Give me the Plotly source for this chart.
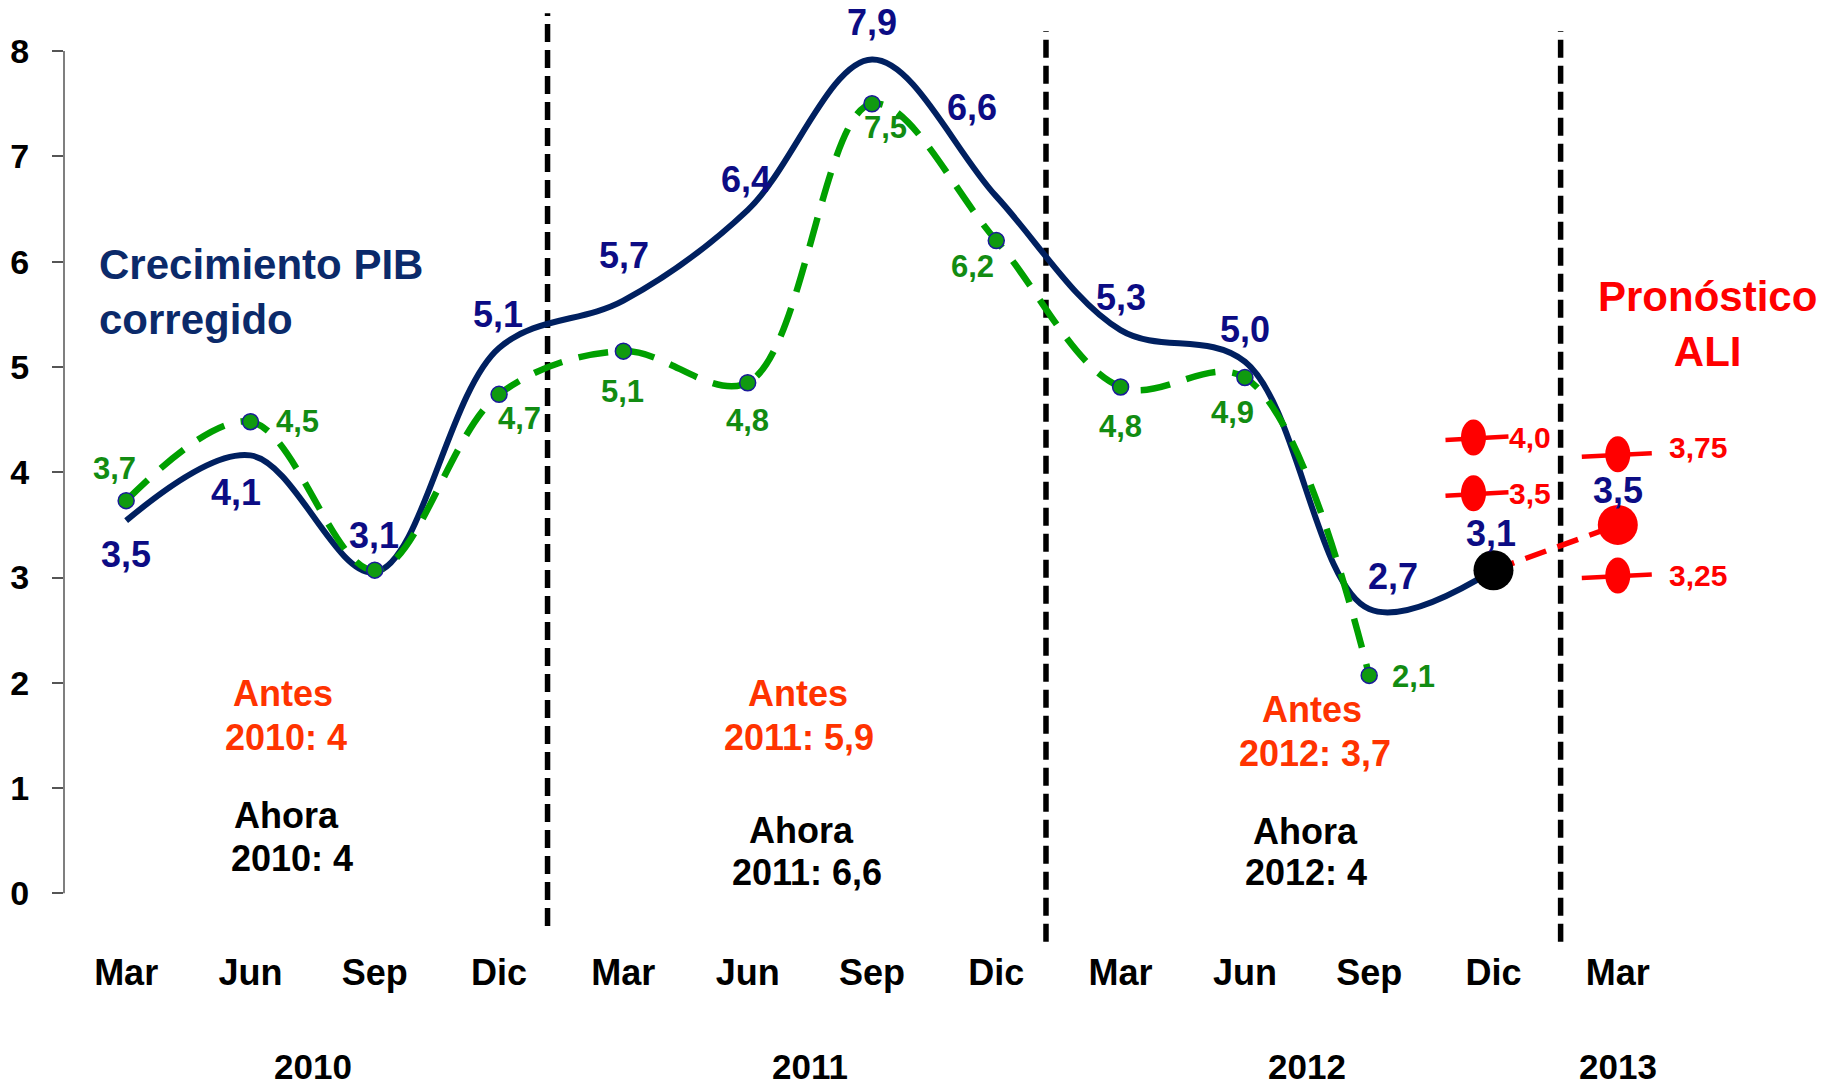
import plotly.graph_objects as go

FONT = "Liberation Sans, Arial, Helvetica, sans-serif"

# ---------------- data ----------------
quarters = ["Mar", "Jun", "Sep", "Dic", "Mar", "Jun", "Sep", "Dic",
            "Mar", "Jun", "Sep", "Dic", "Mar"]
quarter_years = ["2010"] * 4 + ["2011"] * 4 + ["2012"] * 4 + ["2013"]

pib_corregido = [3.54, 4.16, 3.05, 5.18, 5.63, 6.49, 7.92, 6.62, 5.35, 5.05, 2.70, 3.07]
pib_corregido_labels = ["3,5", "4,1", "3,1", "5,1", "5,7", "6,4", "7,9", "6,6",
                        "5,3", "5,0", "2,7", "3,1"]

pib_anterior = [3.73, 4.48, 3.07, 4.74, 5.15, 4.85, 7.50, 6.20, 4.81, 4.90, 2.07]
pib_anterior_labels = ["3,7", "4,5", "", "4,7", "5,1", "4,8", "7,5", "6,2",
                       "4,8", "4,9", "2,1"]

pronostico_ali = 3.5
pronostico_ali_label = "3,5"

rango_dic2012_labels = ["4,0", "3,5"]
rango_dic2012_y = [4.33, 3.80]
rango_mar2013_labels = ["3,75", "3,25"]
rango_mar2013_y = [4.17, 3.02]

antes = ["2010: 4", "2011: 5,9", "2012: 3,7"]
ahora = ["2010: 4", "2011: 6,6", "2012: 4"]

y_ticks = [0, 1, 2, 3, 4, 5, 6, 7, 8]

# ---------------- styles / layout constants ----------------
W, H = 1825, 1092
ML, MR, MT, MB = 64, 0, 9, 146
XR = [-0.5, 13.667]
YR = [-0.5, 8.4]
PW = W - ML - MR
PH = H - MT - MB

NAVY_LINE = "#002060"
NAVY_TXT = "#0c0c84"
GREEN_LINE = "#00a000"
GREEN_DOT = "#109a10"
GREEN_TXT = "#128c12"
RED = "#ff0000"
ORANGE = "#ff3300"


def to_data(px, py):
    return (XR[0] + (px - ML) / PW * (XR[1] - XR[0]),
            YR[1] - (py - MT) / PH * (YR[1] - YR[0]))


def to_paper_y(py):
    return (MT + PH - py) / PH


x_idx = list(range(len(quarters)))
x_blue = x_idx[:len(pib_corregido)]
x_green = x_idx[:len(pib_anterior)]
x_fore = x_idx[len(pib_corregido)]
x_last = x_idx[len(pib_corregido) - 1]

fig = go.Figure()

# blue corrected GDP line
fig.add_trace(go.Scatter(
    x=x_blue, y=pib_corregido, mode="lines",
    line=dict(color=NAVY_LINE, width=6, shape="spline", smoothing=1.0),
    hoverinfo="skip", showlegend=False))

# green previous estimate (dashed)
fig.add_trace(go.Scatter(
    x=x_green, y=pib_anterior, mode="lines",
    line=dict(color=GREEN_LINE, width=6.5, shape="spline", smoothing=1.0,
              dash="30px,17px"),
    hoverinfo="skip", showlegend=False))
fig.add_trace(go.Scatter(
    x=x_green, y=pib_anterior, mode="markers",
    marker=dict(color=GREEN_DOT, size=16, line=dict(color="#1a1a9a", width=1.5)),
    hoverinfo="skip", showlegend=False))

# red dashed forecast link
fig.add_trace(go.Scatter(
    x=[x_last, x_fore], y=[pib_corregido[-1], pronostico_ali], mode="lines",
    line=dict(color=RED, width=5.5, dash="22px,12px"),
    hoverinfo="skip", showlegend=False))
# black dot (last data point)
fig.add_trace(go.Scatter(
    x=[x_last], y=[pib_corregido[-1]], mode="markers",
    marker=dict(color="black", size=40),
    hoverinfo="skip", showlegend=False))
# red forecast dot
fig.add_trace(go.Scatter(
    x=[x_fore], y=[pronostico_ali], mode="markers",
    marker=dict(color=RED, size=40),
    hoverinfo="skip", showlegend=False))

shapes = []
annotations = []

# y axis line from 0 to 8
shapes.append(dict(type="line", xref="paper", yref="y", x0=0, x1=0,
                   y0=y_ticks[0], y1=y_ticks[-1],
                   line=dict(color="#555555", width=1.5)))

# period separators
for xs, y0, y1 in [(3.39, -0.31, 8.36), (7.40, -0.46, 8.19), (11.54, -0.46, 8.19)]:
    shapes.append(dict(type="line", xref="x", yref="y", x0=xs, x1=xs, y0=y0, y1=y1,
                       layer="below", line=dict(color="black", width=5.5, dash="18px,8px")))


# ALI range markers (ellipse + horizontal bar)
def range_marker(xa, ya, dx, ll, lr):
    shapes.append(dict(type="line", xref="x", yref="y", xsizemode="pixel", ysizemode="pixel",
                       xanchor=xa, yanchor=ya, x0=dx + ll, x1=dx + lr, y0=-2.5, y1=1,
                       line=dict(color=RED, width=4.5)))
    shapes.append(dict(type="circle", xref="x", yref="y", xsizemode="pixel", ysizemode="pixel",
                       xanchor=xa, yanchor=ya, x0=dx - 12.5, x1=dx + 12.5, y0=-18, y1=18,
                       fillcolor=RED, line=dict(color=RED, width=0)))


for yv, lab in zip(rango_dic2012_y, rango_dic2012_labels):
    range_marker(x_last, yv, -20, -28, 35)
    annotations.append(dict(x=x_last, y=yv, xref="x", yref="y", text=lab, showarrow=False,
                            xshift=-20 + 57, yshift=0,
                            font=dict(family=FONT, size=30, color=RED, weight="bold")))
for yv, lab, dy in zip(rango_mar2013_y, rango_mar2013_labels, [7, 0]):
    range_marker(x_fore, yv, 0, -36, 34)
    annotations.append(dict(x=x_fore, y=yv, xref="x", yref="y", text=lab, showarrow=False,
                            xshift=80, yshift=dy,
                            font=dict(family=FONT, size=30, color=RED, weight="bold")))

# blue value labels: (dx, dy) screen pixel offsets (dy positive = down)
blue_off = [(0, 34), (-14, 37), (-1, -37), (-1, -34), (1, -45), (-2, -31), (0, -37),
            (-24, -89), (0, -33), (0, -32), (24, -33), (-2, -37)]
for xi, yv, lab, (dx, dy) in zip(x_blue, pib_corregido, pib_corregido_labels, blue_off):
    annotations.append(dict(x=xi, y=yv, xref="x", yref="y", text=lab, showarrow=False,
                            xshift=dx, yshift=-dy,
                            font=dict(family=FONT, size=36, color=NAVY_TXT, weight="bold")))
annotations.append(dict(x=x_fore, y=pronostico_ali, xref="x", yref="y",
                        text=pronostico_ali_label, showarrow=False, xshift=0, yshift=34,
                        font=dict(family=FONT, size=36, color=NAVY_TXT, weight="bold")))

# green value labels
green_off = [(-12, -32), (47, 0), (0, 0), (20, 24), (-1, 40), (0, 38), (14, 24),
             (-24, 26), (0, 40), (-12, 35), (44, 1)]
for xi, yv, lab, (dx, dy) in zip(x_green, pib_anterior, pib_anterior_labels, green_off):
    if not lab:
        continue
    annotations.append(dict(x=xi, y=yv, xref="x", yref="y", text=lab, showarrow=False,
                            xshift=dx, yshift=-dy,
                            font=dict(family=FONT, size=31, color=GREEN_TXT, weight="bold")))

# year labels under the month ticks
for yr in dict.fromkeys(quarter_years):
    idx = [i for i, q in enumerate(quarter_years) if q == yr]
    xc = sum(idx) / len(idx)
    annotations.append(dict(x=xc, y=to_paper_y(1066), xref="x", yref="paper", text=yr,
                            showarrow=False, yanchor="middle",
                            font=dict(family=FONT, size=35, color="black", weight="bold")))


def text_px(txt, px, py, size, color, xanchor="center", align="center"):
    xd, yd = to_data(px, py)
    annotations.append(dict(x=xd, y=yd, xref="x", yref="y", text=txt, showarrow=False,
                            xanchor=xanchor, yanchor="middle", align=align,
                            font=dict(family=FONT, size=size, color=color, weight="bold")))


# series titles
text_px("Crecimiento PIB<br>corregido", 97, 292, 42, "#0b2a6a", xanchor="left", align="left")
text_px("Pronóstico<br>ALI", 1707, 324, 42, RED)

# Antes / Ahora boxes
antes_pos = [((283, 693), (286, 737)), ((798, 693), (799, 737)), ((1312, 709), (1315, 753))]
ahora_pos = [((286, 815), (292, 858)), ((801, 830), (807, 872)), ((1305, 831), (1306, 872))]
for txt, (p1, p2) in zip(antes, antes_pos):
    text_px("Antes", p1[0], p1[1], 36, ORANGE)
    text_px(txt, p2[0], p2[1], 36, ORANGE)
for txt, (p1, p2) in zip(ahora, ahora_pos):
    text_px("Ahora", p1[0], p1[1], 36, "black")
    text_px(txt, p2[0], p2[1], 36, "black")

fig.update_layout(
    width=W, height=H,
    margin=dict(l=ML, r=MR, t=MT, b=MB, pad=0),
    paper_bgcolor="white", plot_bgcolor="white",
    showlegend=False,
    shapes=shapes, annotations=annotations,
    xaxis=dict(range=XR, tickmode="array", tickvals=x_idx, ticktext=quarters,
               showgrid=False, zeroline=False, showline=False, ticks="",
               ticklabelstandoff=2,
               tickfont=dict(family=FONT, size=36, color="black", weight="bold")),
    yaxis=dict(range=YR, tickmode="array", tickvals=y_ticks,
               ticktext=[str(v) for v in y_ticks],
               showgrid=False, zeroline=False, showline=False,
               ticks="outside", ticklen=11, tickwidth=1.5, tickcolor="#555555",
               ticklabelstandoff=16,
               tickfont=dict(family=FONT, size=34, color="black", weight="bold")),
)

fig.write_html("out.html", config={"displayModeBar": False},
               post_script="document.body.style.margin='0';document.body.style.overflow='hidden';")
